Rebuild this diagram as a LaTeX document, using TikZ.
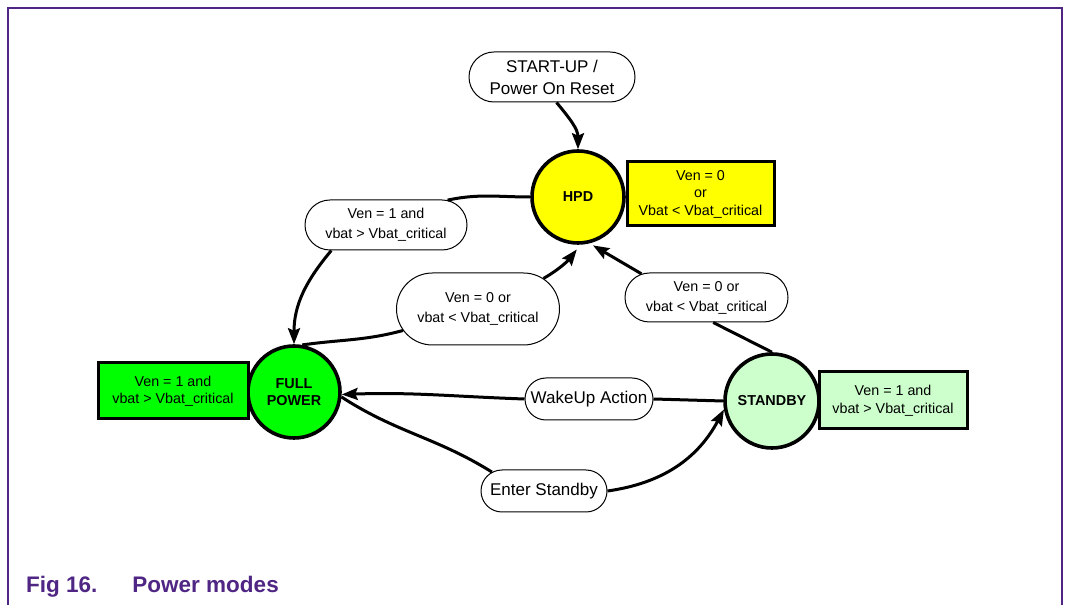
\documentclass[tikz,border=0pt]{standalone}
\usepackage{fontspec}
\setmainfont{Liberation Sans}
\usetikzlibrary{shapes.misc,arrows.meta,calc}
\definecolor{nxppurple}{RGB}{79,38,131}
\definecolor{stateyellow}{RGB}{255,255,0}
\definecolor{stategreen}{RGB}{0,255,0}
\definecolor{statelight}{RGB}{204,255,204}
\tikzset{
  statenode/.style={circle, draw, line width=3.6pt, minimum size=92pt, inner sep=0pt,
    align=center, font=\bfseries\fontsize{14.4}{17}\selectfont},
  condbox/.style={rectangle, draw, line width=3pt, inner sep=0pt, align=center,
    font=\fontsize{14.3}{17.5}\selectfont},
  lblbox/.style={rounded rectangle, draw, line width=1pt, fill=white, inner sep=0pt,
    align=center, font=\fontsize{14.3}{20}\selectfont},
  actbox/.style={rounded rectangle, draw, line width=1pt, fill=white, inner sep=0pt,
    align=center, font=\fontsize{17}{22}\selectfont},
  conn/.style={line width=3pt},
  arr/.style={-{Stealth[length=16pt,width=12pt,inset=2.5pt]}}
}
\begin{document}
\begin{tikzpicture}[x=1pt,y=1pt]
\useasboundingbox (0,0) rectangle (1066,605);
% frame
\draw[nxppurple, line width=1.5pt] (8,-2) -- (8,597) -- (1062,597) -- (1062,-2);
\node[anchor=base west, text=nxppurple, font=\bfseries\fontsize{22.5}{26}\selectfont, inner sep=0pt]
  (caption) at (26,12) {Fig 16.\hspace*{35pt}Power modes};

% states
\node[statenode, fill=stateyellow] (hpd) at (578,408) {HPD};
\node[statenode, fill=stategreen] (full) at (294,213) {FULL\\POWER};
\node[statenode, fill=statelight, minimum size=94pt] (stby) at (772,204) {STANDBY};

% condition boxes
\node[condbox, fill=stateyellow, minimum width=147pt, minimum height=64pt] (hpdc) at (700.5,411)
  {Ven = 0\\or\\Vbat < Vbat\_critical};
\node[condbox, fill=stategreen, minimum width=150pt, minimum height=56pt] (fullc) at (173,214)
  {Ven = 1 and\\vbat > Vbat\_critical};
\node[condbox, fill=statelight, minimum width=148pt, minimum height=57pt] (stbyc) at (893,204.5)
  {Ven = 1 and\\vbat > Vbat\_critical};

% labels
\node[actbox, minimum width=166pt, minimum height=50pt] (startup) at (552,528)
  {START-UP /\\Power On Reset};
\node[lblbox, minimum width=162pt, minimum height=50pt] (l1) at (386,380)
  {Ven = 1 and\\vbat > Vbat\_critical};
\node[lblbox, minimum width=163pt, minimum height=72pt] (l2) at (478,296)
  {Ven = 0 or\\vbat < Vbat\_critical};
\node[lblbox, minimum width=163pt, minimum height=49pt] (l3) at (706.5,307.5)
  {Ven = 0 or\\vbat < Vbat\_critical};
\node[actbox, minimum width=128pt, minimum height=42pt] (wake) at (589,206) {WakeUp Action};
\node[actbox, minimum width=126pt, minimum height=42pt] (enter) at (544,114) {Enter Standby};

% connectors
\draw[conn, arr] (startup.-80) to[out=-50, in=90] (hpd.north);
\draw[conn] (hpd.west) to[out=180, in=12] (l1.22);
\draw[conn, arr] (l1.205) to[out=-130, in=90] (full.north);
\draw[conn] (full.80) to[out=8, in=195] (l2.196);
\draw[conn, arr, shorten >=6pt] (l2.25) to[out=30, in=-128] (hpd.-87);
\draw[conn] (stby.north) -- (l3.-75);
\draw[conn, arr, shorten >=4pt] (l3.160) -- (hpd.-76);
\draw[conn] (stby.180) -- (wake.east);
\draw[conn, arr] (wake.west) to[out=178, in=2] (full.-3);
\draw[conn] (full.-6) to[out=-33, in=148] (enter.160);
\draw[conn, arr] (enter.east) to[out=8, in=-118] (stby.190);
\end{tikzpicture}
\end{document}
